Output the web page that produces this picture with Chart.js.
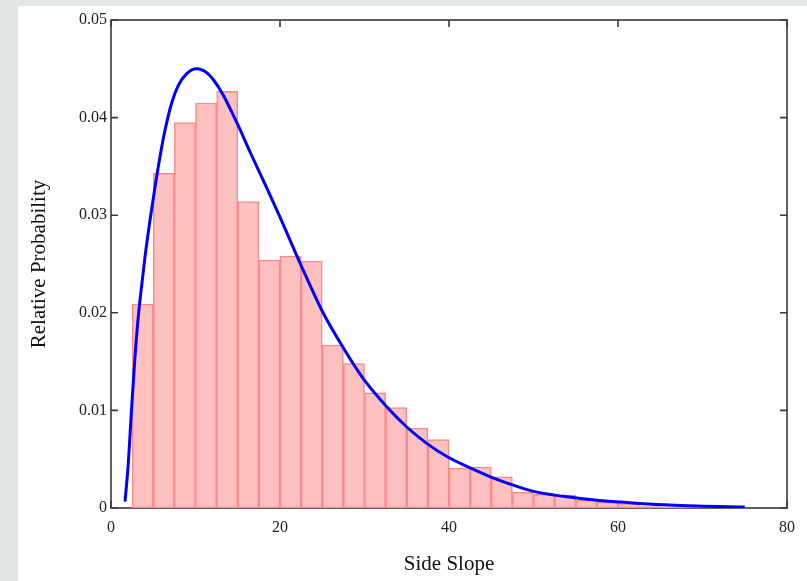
<!DOCTYPE html>
<html>
<head>
<meta charset="utf-8">
<script src="https://cdn.jsdelivr.net/npm/chart.js@4/dist/chart.umd.min.js"></script>
<style>
  html, body { margin: 0; padding: 0; background: #ffffff; }
  #wrap { width: 807px; height: 581px; position: relative; }
</style>
</head>
<body>
<div id="wrap"><canvas id="c" width="807" height="581"></canvas></div>
<script>
// Histogram bins (left edges, width 2.5) and relative probabilities
const binLeft = [0, 2.5, 5, 7.5, 10, 12.5, 15, 17.5, 20, 22.5, 25, 27.5, 30, 32.5, 35, 37.5, 40, 42.5, 45, 47.5, 50, 52.5, 55, 57.5, 60, 62.5, 65, 67.5, 70];
const binProb = [0, 0.0209, 0.0343, 0.0395, 0.0415, 0.0427, 0.0314, 0.0254, 0.0258, 0.0253, 0.0167, 0.0148, 0.0118, 0.0103, 0.0082, 0.0070, 0.0041, 0.0042, 0.0032, 0.0016, 0.0014, 0.0013, 0.0008, 0.0006, 0.00045, 0.00015, 0.00012, 0.0001, 0.00005];
const binWidth = 2.5;

// Fitted density curve
const curveX = [1.66, 2.05, 2.45, 2.84, 3.23, 3.63, 4.02, 4.62, 5.21, 5.8, 6.39, 7.18, 7.97, 8.96, 10.14, 11.33, 12.1, 13.29, 14.88, 16.45, 18.43, 20.0, 22.37, 25.1, 27.5, 29.9, 32.6, 35.0, 37.4, 39.7, 42.5, 44.9, 47.4, 50, 53.5, 57.5, 61.4, 65.4, 69.3, 75];
const curveY = [0.00065, 0.0046, 0.0104, 0.0155, 0.0196, 0.0228, 0.0257, 0.0295, 0.0329, 0.036, 0.0387, 0.0415, 0.0433, 0.0445, 0.0450, 0.0446, 0.0439, 0.0423, 0.0395, 0.0365, 0.0328, 0.0298, 0.0251, 0.0200, 0.0164, 0.0132, 0.0104, 0.0083, 0.0066, 0.0053, 0.0041, 0.0032, 0.0024, 0.0017, 0.0012, 0.0008, 0.00055, 0.00034, 0.0002, 0.0001];

const xTicks = [0, 20, 40, 60, 80];
const yTicks = [0, 0.01, 0.02, 0.03, 0.04, 0.05];
const xTitle = 'Side Slope';
const yTitle = 'Relative Probability';

const barData = binLeft.map((l, i) => ({ x: l + binWidth / 2, y: binProb[i] }));
const lineData = curveX.map((x, i) => ({ x: x, y: curveY[i] }));

const FONT = "'Liberation Serif', 'Times New Roman', serif";
const AXIS_COLOR = '#3a3a3a';

const bgPlugin = {
  id: 'bg',
  beforeDraw(chart) {
    const ctx = chart.ctx;
    ctx.save();
    ctx.fillStyle = '#e3e6e6';
    ctx.fillRect(0, 0, chart.width, chart.height);
    ctx.fillStyle = '#ffffff';
    ctx.fillRect(18, 6, chart.width - 18, chart.height - 6);
    ctx.restore();
  }
};

const framePlugin = {
  id: 'frame',
  beforeDatasetsDraw(chart) {
    const { ctx, chartArea: a, scales: { x, y } } = chart;
    ctx.save();
    ctx.strokeStyle = AXIS_COLOR;
    ctx.lineWidth = 1.6;
    ctx.strokeRect(a.left, a.top, a.right - a.left, a.bottom - a.top);
    const len = 7;
    ctx.beginPath();
    xTicks.forEach(v => {
      const px = x.getPixelForValue(v);
      ctx.moveTo(px, a.top); ctx.lineTo(px, a.top + len);
      ctx.moveTo(px, a.bottom); ctx.lineTo(px, a.bottom - len);
    });
    yTicks.forEach(v => {
      const py = y.getPixelForValue(v);
      ctx.moveTo(a.left, py); ctx.lineTo(a.left + len, py);
      ctx.moveTo(a.right, py); ctx.lineTo(a.right - len, py);
    });
    ctx.stroke();
    ctx.restore();
  }
};

new Chart(document.getElementById('c'), {
  data: {
    datasets: [
      {
        type: 'line',
        data: lineData,
        borderColor: '#0000ff',
        borderWidth: 3,
        pointRadius: 0,
        cubicInterpolationMode: 'monotone',
        fill: false,
        order: 0
      },
      {
        type: 'bar',
        data: barData,
        backgroundColor: '#ffc0c0',
        borderColor: '#ff8888',
        borderWidth: 1.5,
        borderSkipped: false,
        barPercentage: 1,
        categoryPercentage: 1,
        order: 1
      }
    ]
  },
  options: {
    responsive: false,
    animation: false,
    devicePixelRatio: 1,
    layout: { padding: { left: 0, right: 20, top: 20, bottom: 0 } },
    plugins: { legend: { display: false }, tooltip: { enabled: false } },
    scales: {
      x: {
        type: 'linear',
        min: 0, max: 80,
        offset: false,
        afterBuildTicks(s) { s.ticks = xTicks.map(v => ({ value: v })); },
        afterFit(s) { s.height = 73; },
        grid: { display: false, drawTicks: false, offset: false },
        border: { display: false },
        ticks: {
          padding: 10,
          color: '#222',
          font: { family: FONT, size: 16 },
          callback: v => String(v)
        },
        title: {
          display: true,
          text: xTitle,
          color: '#111',
          font: { family: FONT, size: 21 },
          padding: { top: 0, bottom: 4 }
        }
      },
      y: {
        type: 'linear',
        min: 0, max: 0.05,
        afterBuildTicks(s) { s.ticks = yTicks.map(v => ({ value: v })); },
        afterFit(s) { s.width = 111; },
        grid: { display: false, drawTicks: false },
        border: { display: false },
        ticks: {
          padding: 4,
          color: '#222',
          font: { family: FONT, size: 16 },
          callback: v => (v === 0 ? '0' : v.toFixed(2))
        },
        title: {
          display: true,
          text: yTitle,
          color: '#111',
          font: { family: FONT, size: 21 },
          padding: { top: 27, bottom: 0 }
        }
      }
    }
  },
  plugins: [bgPlugin, framePlugin]
});
</script>
</body>
</html>
